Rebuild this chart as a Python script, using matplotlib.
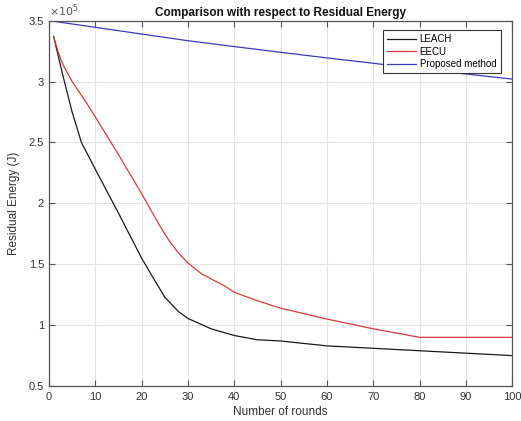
import matplotlib
matplotlib.use("Agg")
import matplotlib.pyplot as plt
from matplotlib.ticker import FuncFormatter, MultipleLocator

plt.rcParams['font.family'] = ['Liberation Sans', 'DejaVu Sans']

# Data (residual energy in J)
leach_x = [1, 3, 5, 7, 10, 15, 20, 22, 25, 28, 30, 35, 40, 45, 50, 60, 70, 80, 90, 100]
leach_y = [3.37e5, 3.05e5, 2.75e5, 2.50e5, 2.28e5, 1.92e5, 1.55e5, 1.42e5, 1.23e5, 1.11e5, 1.055e5,
           0.97e5, 0.915e5, 0.88e5, 0.87e5, 0.83e5, 0.81e5, 0.79e5, 0.77e5, 0.75e5]

eecu_x = [1, 2, 3, 5, 8, 10, 15, 20, 24, 26, 28, 30, 33, 35, 38, 40, 45, 50, 60, 70, 80, 90, 100]
eecu_y = [3.37e5, 3.24e5, 3.14e5, 3.00e5, 2.83e5, 2.71e5, 2.40e5, 2.08e5, 1.81e5, 1.69e5, 1.59e5,
          1.51e5, 1.42e5, 1.38e5, 1.32e5, 1.27e5, 1.20e5, 1.14e5, 1.05e5, 0.97e5, 0.90e5, 0.90e5, 0.90e5]

prop_x = [0, 10, 20, 30, 40, 50, 60, 70, 80, 90, 100]
prop_y = [3.50e5, 3.445e5, 3.39e5, 3.335e5, 3.287e5, 3.24e5, 3.194e5, 3.15e5, 3.105e5, 3.062e5, 3.02e5]

labels = ['LEACH', 'EECU', 'Proposed method']

fig = plt.figure(figsize=(5.21, 4.21), dpi=100)
ax = fig.add_axes([0.094, 0.083, 0.889, 0.868])

ax.plot(leach_x, leach_y, color='#1a1a1a', lw=0.9, label=labels[0])
ax.plot(eecu_x, eecu_y, color='#d43a3a', lw=0.9, label=labels[1])
ax.plot(prop_x, prop_y, color='#3a3ab8', lw=0.9, label=labels[2])

ax.set_xlim(0, 100)
ax.set_ylim(0.5e5, 3.5e5)
ax.xaxis.set_major_locator(MultipleLocator(10))
ax.yaxis.set_major_locator(MultipleLocator(0.5e5))
ax.yaxis.set_major_formatter(FuncFormatter(lambda v, p: f'{v/1e5:g}'))
ax.grid(True, color='#e3e3e3', lw=0.8)
ax.set_axisbelow(True)

for s in ax.spines.values():
    s.set_color('#555555')
    s.set_linewidth(0.9)
ax.tick_params(direction='in', top=True, right=True, length=4, width=0.8,
               colors='#555555', labelcolor='#333333', labelsize=8)
ax.tick_params(axis='x', pad=4)

ax.set_title('Comparison with respect to Residual Energy', fontsize=8.5,
             fontweight='bold', pad=3, color='#111111')
ax.set_xlabel('Number of rounds', fontsize=8.5, color='#333333', labelpad=3)
ax.set_ylabel('Residual Energy (J)', fontsize=8.5, color='#333333', labelpad=6)
ax.text(0.0, 1.005, r'$\times10^{5}$', transform=ax.transAxes, fontsize=8,
        color='#555555', ha='left', va='bottom')

leg = ax.legend(loc='upper right', bbox_to_anchor=(0.975, 0.975), fontsize=7,
                frameon=True, fancybox=False, edgecolor='#333333', framealpha=1,
                handlelength=3.0, borderpad=0.45, labelspacing=0.25, handletextpad=0.35,
                borderaxespad=0)
leg.get_frame().set_linewidth(0.8)

fig.savefig('out.png', dpi=100, facecolor='white')
